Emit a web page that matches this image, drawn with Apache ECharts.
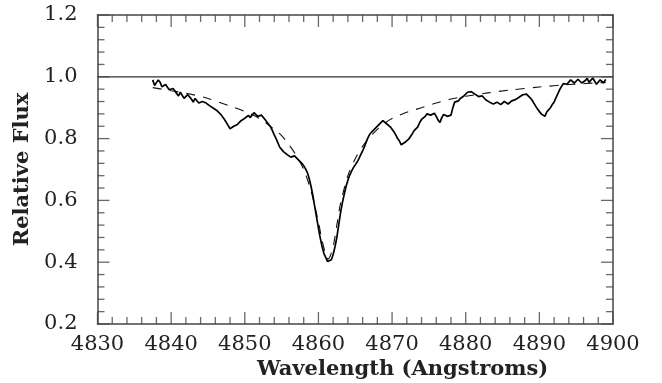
<!DOCTYPE html>
<html>
<head>
<meta charset="utf-8">
<script src="https://cdn.jsdelivr.net/npm/echarts@6/dist/echarts.min.js"></script>
<style>html,body{margin:0;padding:0;background:#fff}#c{width:662px;height:383px}</style>
</head>
<body>
<div id="c"></div>
<script>
const xRange = [4830, 4900, 10];
const yRange = [0.2, 1.2, 0.2];
const xMajor = [4830, 4840, 4850, 4860, 4870, 4880, 4890, 4900];
const xMinor = [4832, 4834, 4836, 4838, 4842, 4844, 4846, 4848, 4852, 4854, 4856, 4858,
  4862, 4864, 4866, 4868, 4872, 4874, 4876, 4878, 4882, 4884, 4886, 4888, 4892, 4894, 4896, 4898];
const yMajor = [0.2, 0.4, 0.6, 0.8, 1.0, 1.2];
const yMinor = [0.24, 0.28, 0.32, 0.36, 0.44, 0.48, 0.52, 0.56, 0.64, 0.68, 0.72, 0.76,
  0.84, 0.88, 0.92, 0.96, 1.04, 1.08, 1.12, 1.16];

const spectrum = [
[4837.50,0.990],[4837.75,0.972],[4838.00,0.978],[4838.25,0.990],[4838.50,0.982],[4838.75,0.968],
[4839.00,0.962],[4839.25,0.975],[4839.50,0.966],[4839.75,0.958],[4840.00,0.952],[4840.25,0.962],
[4840.50,0.955],[4840.75,0.946],[4841.00,0.938],[4841.25,0.950],[4841.50,0.944],[4841.75,0.930],
[4842.00,0.934],[4842.25,0.942],[4842.50,0.935],[4842.75,0.928],[4843.00,0.918],[4843.25,0.930],
[4843.50,0.924],[4843.75,0.915],[4844.00,0.912],[4844.25,0.920],[4844.50,0.925],[4844.75,0.915],
[4845.00,0.918],[4845.25,0.906],[4845.50,0.908],[4845.75,0.898],[4846.00,0.900],[4846.25,0.890],
[4846.50,0.886],[4846.75,0.878],[4847.00,0.874],[4847.25,0.862],[4847.50,0.856],[4847.75,0.842],
[4848.00,0.832],[4848.25,0.828],[4848.50,0.840],[4848.75,0.834],[4849.00,0.846],[4849.25,0.852],
[4849.50,0.858],[4849.75,0.864],[4850.00,0.866],[4850.25,0.872],[4850.50,0.875],[4850.75,0.868],
[4851.00,0.876],[4851.25,0.884],[4851.50,0.878],[4851.75,0.872],[4852.00,0.868],[4852.25,0.876],
[4852.50,0.870],[4852.75,0.862],[4853.00,0.858],[4853.25,0.846],[4853.50,0.838],[4853.75,0.826],
[4854.00,0.812],[4854.25,0.800],[4854.50,0.786],[4854.75,0.772],[4855.00,0.768],[4855.25,0.758],
[4855.50,0.752],[4855.75,0.748],[4856.00,0.744],[4856.25,0.740],[4856.50,0.738],[4856.75,0.744],
[4857.00,0.740],[4857.25,0.732],[4857.50,0.726],[4857.75,0.720],[4858.00,0.712],[4858.25,0.702],
[4858.50,0.690],[4858.75,0.670],[4859.00,0.645],[4859.25,0.615],[4859.50,0.580],[4859.75,0.545],
[4860.00,0.510],[4860.25,0.478],[4860.50,0.450],[4860.75,0.428],[4861.00,0.415],[4861.25,0.402],
[4861.50,0.400],[4861.75,0.408],[4862.00,0.425],[4862.25,0.450],[4862.50,0.480],[4862.75,0.520],
[4863.00,0.560],[4863.25,0.592],[4863.50,0.620],[4863.75,0.645],[4864.00,0.665],[4864.25,0.682],
[4864.50,0.695],[4864.75,0.706],[4865.00,0.715],[4865.25,0.724],[4865.50,0.735],[4865.75,0.748],
[4866.00,0.760],[4866.25,0.774],[4866.50,0.790],[4866.75,0.804],[4867.00,0.815],[4867.25,0.822],
[4867.50,0.828],[4867.75,0.834],[4868.00,0.838],[4868.25,0.846],[4868.50,0.850],[4868.75,0.858],
[4869.00,0.856],[4869.25,0.848],[4869.50,0.842],[4869.75,0.838],[4870.00,0.832],[4870.25,0.822],
[4870.50,0.812],[4870.75,0.800],[4871.00,0.792],[4871.25,0.780],[4871.50,0.775],[4871.75,0.788],
[4872.00,0.790],[4872.25,0.798],[4872.50,0.802],[4872.75,0.816],[4873.00,0.826],[4873.25,0.830],
[4873.50,0.838],[4873.75,0.852],[4874.00,0.862],[4874.25,0.866],[4874.50,0.872],[4874.75,0.880],
[4875.00,0.884],[4875.25,0.876],[4875.50,0.878],[4875.75,0.882],[4876.00,0.872],[4876.25,0.860],
[4876.50,0.852],[4876.75,0.868],[4877.00,0.878],[4877.25,0.884],[4877.50,0.872],[4877.75,0.868],
[4878.00,0.876],[4878.25,0.900],[4878.50,0.918],[4878.75,0.912],[4879.00,0.922],[4879.25,0.930],
[4879.50,0.935],[4879.75,0.938],[4880.00,0.942],[4880.25,0.950],[4880.50,0.956],[4880.75,0.952],
[4881.00,0.948],[4881.25,0.944],[4881.50,0.942],[4881.75,0.936],[4882.00,0.935],[4882.25,0.938],
[4882.50,0.932],[4882.75,0.925],[4883.00,0.922],[4883.25,0.918],[4883.50,0.916],[4883.75,0.912],
[4884.00,0.910],[4884.25,0.918],[4884.50,0.916],[4884.75,0.910],[4885.00,0.912],[4885.25,0.920],
[4885.50,0.918],[4885.75,0.912],[4886.00,0.912],[4886.25,0.922],[4886.50,0.920],[4886.75,0.926],
[4887.00,0.925],[4887.25,0.934],[4887.50,0.932],[4887.75,0.942],[4888.00,0.948],[4888.25,0.944],
[4888.50,0.938],[4888.75,0.932],[4889.00,0.925],[4889.25,0.915],[4889.50,0.905],[4889.75,0.896],
[4890.00,0.892],[4890.25,0.880],[4890.50,0.878],[4890.75,0.872],[4891.00,0.886],[4891.25,0.892],
[4891.50,0.900],[4891.75,0.910],[4892.00,0.918],[4892.25,0.932],[4892.50,0.945],[4892.75,0.958],
[4893.00,0.968],[4893.25,0.978],[4893.50,0.982],[4893.75,0.976],[4894.00,0.978],[4894.25,0.990],
[4894.50,0.988],[4894.75,0.980],[4895.00,0.980],[4895.25,0.992],[4895.50,0.990],[4895.75,0.980],
[4896.00,0.978],[4896.25,0.988],[4896.50,0.995],[4896.75,0.982],[4897.00,0.985],[4897.25,0.996],
[4897.50,0.990],[4897.75,0.976],[4898.00,0.978],[4898.25,0.990],[4898.50,0.988],[4898.75,0.980],
[4899.00,0.992]
];

const model = [
[4837.5,0.965],[4840,0.955],[4842,0.947],[4845,0.93],[4848,0.905],[4850,0.888],[4852,0.865],[4854,0.83],
[4855,0.81],[4856,0.78],[4857,0.745],[4858,0.70],[4859,0.63],[4860,0.53],[4860.5,0.47],[4861,0.425],
[4861.3,0.41],[4861.6,0.42],[4862,0.45],[4862.5,0.52],[4863,0.59],[4864,0.68],[4865,0.735],[4866,0.775],
[4867,0.805],[4868,0.83],[4869,0.85],[4870,0.865],[4872,0.885],[4874,0.90],[4876,0.915],[4878,0.928],
[4880,0.937],[4883,0.948],[4886,0.957],[4890,0.967],[4894,0.975],[4899,0.982]
];

const continuum = [[4830,1.0],[4900,1.0]];

const FONT = 'DejaVu Serif';
const LINE = '#444';
const TICK = '#444';

function mainAxis(range, pos, extra){
  return Object.assign({
    type:'value', position:pos, min:range[0], max:range[1], interval:range[2],
    axisLine:{show:true, onZero:false, lineStyle:{color:LINE, width:1.5}},
    axisTick:{show:false}, minorTick:{show:false},
    splitLine:{show:false}, minorSplitLine:{show:false},
    axisLabel:{show:false}
  }, extra || {});
}

// inward tick marks, placed through the axes' scales
function tickSeries(points, size, offset){
  return {type:'scatter', data:points, symbol:'rect', symbolSize:size, symbolOffset:offset,
    itemStyle:{color:TICK}, clip:false, silent:true, z:5};
}
const MAJ = 12, MIN = 7, W = 1.3;
const tickSeriesList = [
  tickSeries(xMajor.map(v=>[v, yRange[0]]), [W, MAJ], [0, -MAJ/2]),
  tickSeries(xMinor.map(v=>[v, yRange[0]]), [W, MIN], [0, -MIN/2]),
  tickSeries(xMajor.map(v=>[v, yRange[1]]), [W, MAJ], [0, MAJ/2]),
  tickSeries(xMinor.map(v=>[v, yRange[1]]), [W, MIN], [0, MIN/2]),
  tickSeries(yMajor.map(v=>[xRange[0], v]), [MAJ, W], [MAJ/2, 0]),
  tickSeries(yMinor.map(v=>[xRange[0], v]), [MIN, W], [MIN/2, 0]),
  tickSeries(yMajor.map(v=>[xRange[1], v]), [MAJ, W], [-MAJ/2, 0]),
  tickSeries(yMinor.map(v=>[xRange[1], v]), [MIN, W], [-MIN/2, 0])
];

const chart = echarts.init(document.getElementById('c'), null, {renderer:'canvas'});
chart.setOption({
  animation:false,
  backgroundColor:'#fff',
  grid:{left:97.5, right:49, top:15, bottom:59},
  xAxis:[
    mainAxis(xRange, 'bottom', {axisLabel:{show:true, fontFamily:FONT, fontSize:21, color:'#222', margin:10, formatter:v=>String(v)}}),
    mainAxis(xRange, 'top')
  ],
  yAxis:[
    mainAxis(yRange, 'left', {
      axisLabel:{show:true, fontFamily:FONT, fontSize:21, color:'#222', margin:20, formatter:v=>v.toFixed(1)},
      name:'Relative Flux', nameLocation:'middle', nameGap:58,
      nameTextStyle:{fontFamily:FONT, fontWeight:'bold', fontSize:21, color:'#222'}
    }),
    mainAxis(yRange, 'right')
  ],
  graphic:[{type:'text', left:257, top:359,
    style:{text:'Wavelength (Angstroms)', font:'bold 21px "DejaVu Serif"', fill:'#222'}}],
  series:[
    {type:'line', data:continuum, symbol:'none', lineStyle:{color:'#333', width:1.3}, silent:true},
    {type:'line', data:model, symbol:'none', smooth:0.3, lineStyle:{color:'#111', width:1.1, type:[9,8]}, silent:true},
    {type:'line', data:spectrum, symbol:'none', lineStyle:{color:'#000', width:1.7}, silent:true}
  ].concat(tickSeriesList)
});
</script>
</body>
</html>
